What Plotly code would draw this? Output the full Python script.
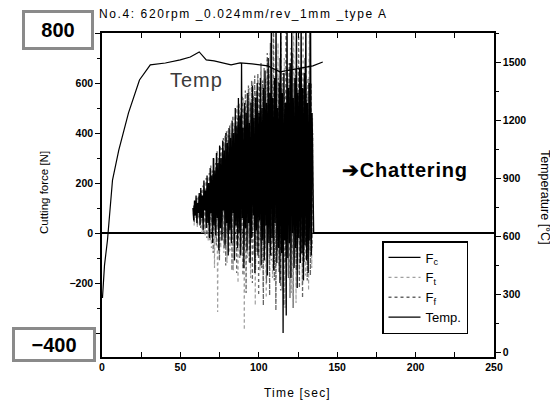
import numpy as np
import plotly.graph_objects as go

# ---------------- data ----------------
title_text = "No.4: 620rpm _0.024mm/rev_1mm _type A"

# Left-axis tick labels (the 800 / -400 labels sit under the boxed callouts)
force_tickvals = [-400, -200, 0, 200, 400, 600, 800]
force_ticktext = ["", "\u2212200", "0", "200", "400", "600", ""]

# Temperature (right axis)
temp_time = [0.3, 1.6, 3.5, 3.9, 5.4, 6.7, 10.7, 16.9, 23.9, 30.8, 40.4, 49.9, 56.3, 62.0,
             66.5, 71.5, 82.3, 88.1, 95.7, 105.7, 113.5, 126.2, 134.5, 140.8]
temp_vals = [282, 452, 582, 618, 773, 892, 1047, 1239, 1409, 1487, 1497, 1513, 1528, 1554,
             1513, 1508, 1487, 1497, 1492, 1482, 1451, 1471, 1482, 1502]

# Cutting forces, sampled every 0.5 s
sample_dt = 0.5
fc_start = 58.0
fc_vals = [
    100, 50, 130, 70, 150, 40, 120, 80, 160, 30,
    180, 60, 150, 10, 210, 90, 170, 20, 230, 40,
    200, -20, 260, 80, 230, -40, 300, 30, 250, -10,
    320, 60, 280, -70, 350, 20, 300, -30, 370, 90,
    330, -50, 400, 40, 360, -90, 420, 10, 380, -40,
    450, 80, 400, -110, 500, 30, 430, -60, 540, 0,
    470, -90, 680, 60, 420, -140, 520, 20, 480, -70,
    560, 40, 440, -120, 520, -20, 590, 70, 460, -160,
    540, 10, 600, -90, 480, 50, 620, -130, 500, -30,
    580, -110, 650, 30, 520, -170, 700, -40, 560, -90,
    900, -20, 540, -150, 620, 40, 900, -120, 500, -60,
    600, -200, 900, -80, 560, -400, 640, -30, 520, -330,
    900, -100, 580, -40, 680, -180, 900, 0, 540, -140,
    620, -60, 900, -220, 560, -20, 660, -120, 900, -80,
    580, -190, 640, -50, 900, -110, 520, -160, 600, -30,
    900, -90, 480, 20, 0,
]
ft_start = 58.25
ft_vals = [
    80, 30, 110, 60, 140, 20, 130, 70, 150, 40,
    170, 0, 140, 50, 200, -10, 180, 30, 220, -30,
    190, 20, 250, -60, 240, 10, 280, -140, 260, -20,
    310, -316, 290, 30, 340, -60, 320, 0, 360, -80,
    390, -20, 350, -120, 410, 30, 380, -70, 440, -10,
    420, -150, 470, 20, 440, -90, 510, -200, 460, 10,
    500, -60, 450, -130, 540, -388, 490, 30, 560, -100,
    500, -40, 580, -180, 520, 20, 610, -90, 540, -290,
    560, -60, 630, 0, 520, -150, 650, -40, 590, -220,
    620, -70, 560, -260, 700, -20, 600, -130, 720, -50,
    640, -180, 820, -30, 580, -280, 660, -90, 760, -140,
    620, -40, 900, -230, 600, -110, 700, -300, 580, -60,
    660, -170, 620, -20, 740, -240, 600, -90, 900, -130,
    640, -280, 580, -50, 700, -160, 620, -20, 560, -210,
    900, -100, 600, -170, 660, -40, 560, -230, 700, -90,
    600, -140, 460, 0,
]
ff_start = 58.4
ff_vals = [
    110, 40, 120, 70, 140, 30, 150, 60, 130, 20,
    170, 50, 190, 0, 160, 40, 220, -20, 200, 30,
    240, -30, 270, 40, 250, -80, 300, 10, 280, -50,
    330, 20, 300, -110, 350, -10, 340, 50, 380, -60,
    360, -130, 410, 0, 390, -80, 430, 20, 400, -150,
    470, -40, 430, 30, 500, -160, 460, -20, 520, -100,
    480, 10, 550, -170, 500, -50, 570, -240, 520, 0,
    590, -120, 530, -40, 610, -200, 550, 20, 630, -150,
    570, -80, 640, -250, 600, -30, 680, -140, 610, -290,
    660, -60, 620, -200, 720, -10, 640, -250, 760, -110,
    600, -40, 900, -190, 560, -310, 660, -70, 620, -160,
    700, -230, 580, -40, 640, -290, 560, -120, 900, -20,
    620, -180, 680, -260, 560, -60, 720, -300, 600, -100,
    660, -150, 580, -30, 900, -220, 600, -90, 640, -260,
    580, -120, 700, -40, 560, -190, 620, -70, 900, -170,
    600, -60, 400,
]

fc_t = fc_start + sample_dt * np.arange(len(fc_vals))
ft_t = ft_start + sample_dt * np.arange(len(ft_vals))
ff_t = ff_start + sample_dt * np.arange(len(ff_vals))

# ---------------- layout constants ----------------
OFF = 8                      # default page body margin
W, H = 558 - OFF, 404 - OFF
ML, MR, MT, MB = 94, 64, 25, 47
PW, PH = W - ML - MR, H - MT - MB
FONT = "Liberation Sans, Arial, sans-serif"


def px(x):
    return (x - OFF - ML) / PW


def py(y):
    return (H - MB - (y - OFF)) / PH


fig = go.Figure()
fig.add_trace(go.Scatter(x=ft_t, y=ft_vals, mode="lines", name="F<sub>t</sub>",
                         line=dict(color="#a0a0a0", width=1.2, dash="dot"), legendrank=2))
fig.add_trace(go.Scatter(x=ff_t, y=ff_vals, mode="lines", name="F<sub>f</sub>",
                         line=dict(color="#666666", width=1.3, dash="dot"), legendrank=3))
fig.add_trace(go.Scatter(x=fc_t, y=fc_vals, mode="lines", name="F<sub>c</sub>",
                         line=dict(color="black", width=1.3), legendrank=1))
fig.add_trace(go.Scatter(x=temp_time, y=temp_vals, mode="lines", name="Temp.",
                         yaxis="y2", line=dict(color="black", width=1.2), legendrank=4))

axis_common = dict(showline=True, linecolor="black", linewidth=1.5, showgrid=False,
                   tickfont=dict(family=FONT, size=10.5, color="black", weight="bold"),
                   ticklen=5, tickcolor="black", tickwidth=1.2)

fig.update_layout(
    width=W, height=H,
    margin=dict(l=ML, r=MR, t=MT, b=MB, autoexpand=False),
    paper_bgcolor="white", plot_bgcolor="white",
    font=dict(family=FONT, color="black"),
    showlegend=True,
    legend=dict(x=px(382), y=py(241), xanchor="left", yanchor="top",
                bordercolor="black", borderwidth=1.5, bgcolor="white",
                font=dict(family=FONT, size=13), itemwidth=32,
                tracegroupgap=0),
    xaxis=dict(range=[0, 250], dtick=50, ticks="inside", mirror="allticks",
               minor=dict(dtick=25, ticks="inside", ticklen=3, tickcolor="black"),
               zeroline=False, **axis_common),
    yaxis=dict(range=[-496, 800], tickmode="array", tickvals=force_tickvals,
               ticktext=force_ticktext, ticks="outside",
               minor=dict(dtick=100, ticks="outside", ticklen=3, tickcolor="black"),
               zeroline=True, zerolinecolor="black", zerolinewidth=2, **axis_common),
    yaxis2=dict(range=[-23, 1652], dtick=300, ticks="outside", side="right",
                overlaying="y", anchor="x",
                minor=dict(dtick=150, ticks="outside", ticklen=3, tickcolor="black"),
                zeroline=False, **axis_common),
)


def note(text, x, y, **kw):
    d = dict(text=text, x=px(x), y=py(y), xref="paper", yref="paper",
             xanchor="center", yanchor="middle", showarrow=False)
    d.update(kw)
    return d


ann = [
    note('<span style="letter-spacing:1.6px">' + title_text + '</span>', 97, 14,
         xanchor="left", font=dict(family=FONT, size=12)),
    note("<b>800</b>", 57.5, 29.5, width=62, height=30, borderpad=2, borderwidth=3,
         bordercolor="#8a8a8a", bgcolor="white", font=dict(family=FONT, size=20)),
    note("<b>\u2212400</b>", 53.5, 344, width=74, height=25, borderpad=2, borderwidth=3,
         bordercolor="#8a8a8a", bgcolor="white", font=dict(family=FONT, size=20)),
    note('<span style="letter-spacing:1px">Temp</span>', 196, 80,
         font=dict(family=FONT, size=20, color="#3a3a3a")),
    note('<b><span style="letter-spacing:0.8px">\u2794Chattering</span></b>', 405, 170,
         font=dict(family=FONT, size=20, color="black")),
    note("Cutting force [N]", 44, 193, textangle=-90, font=dict(family=FONT, size=11.5)),
    note("Temperature [\u00b0C]", 545, 197, textangle=90, font=dict(family=FONT, size=12.5)),
    note('<span style="letter-spacing:1.2px">Time [sec]</span>', 297, 393,
         font=dict(family=FONT, size=12)),
]
fig.update_layout(annotations=ann)

fig.write_html("out.html")
